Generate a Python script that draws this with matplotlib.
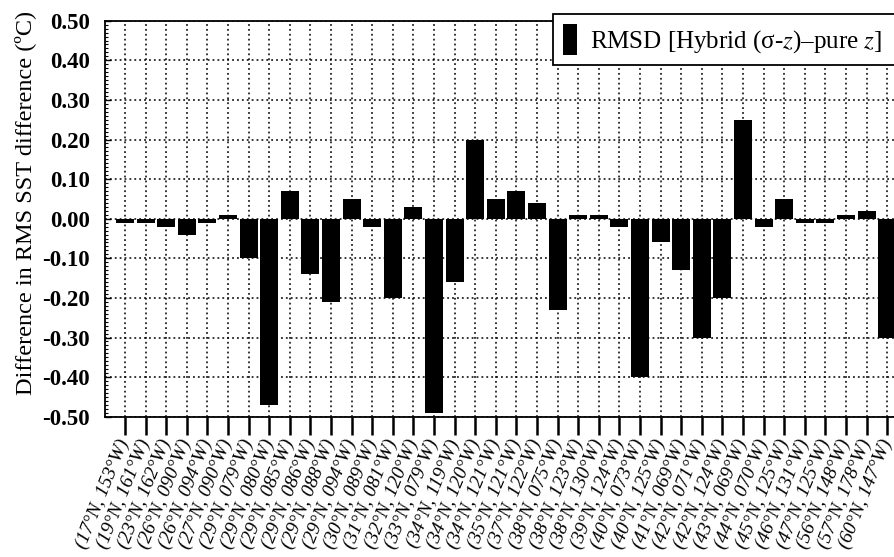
import numpy as np
import matplotlib
matplotlib.use('Agg')
import matplotlib.pyplot as plt
from matplotlib.ticker import MultipleLocator, FormatStrFormatter

plt.rcParams['font.family'] = ['Liberation Serif', 'DejaVu Serif']
plt.rcParams['mathtext.fontset'] = 'stix'

lat = ['17', '19', '23', '26', '26', '27', '29', '29', '29', '29', '29', '29', '30',
       '31', '32', '33', '34', '34', '34', '35', '37', '38', '38', '38', '39',
       '40', '40', '41', '42', '42', '43', '44', '45', '46', '47', '56', '57', '60']
lon = ['153', '161', '162', '090', '094', '090', '079', '080', '085', '086', '088', '094', '089',
       '081', '120', '079', '119', '120', '121', '121', '122', '075', '123', '130', '124',
       '073', '125', '069', '071', '124', '069', '070', '125', '131', '125', '148', '178', '147']
rmsd_diff = [-0.01, -0.01, -0.02, -0.04, -0.01, 0.01, -0.10, -0.47, 0.07, -0.14,
             -0.21, 0.05, -0.02, -0.20, 0.03, -0.49, -0.16, 0.20, 0.05, 0.07,
             0.04, -0.23, 0.01, 0.01, -0.02, -0.40, -0.06, -0.13, -0.30, -0.20,
             0.25, -0.02, 0.05, -0.01, -0.01, 0.01, 0.02, -0.30]

labels = ['(%s°N, %s°W)' % (a, b) for a, b in zip(lat, lon)]
x = np.arange(len(rmsd_diff))

fig = plt.figure(figsize=(8.94, 5.57), dpi=100)
# axes runs past the right edge, the original is cropped there
ax = fig.add_axes([105/894, 1 - 416.7/557, (901.6 - 105)/894, (416.7 - 20.7)/557])

ax.bar(x, rmsd_diff, width=0.88, color='black', zorder=3,
       label='RMSD [Hybrid (σ-$z$)\u2013pure $z$]')

ax.set_xlim(-0.97, 37.7)
ax.set_ylim(-0.5, 0.5)
ax.yaxis.set_major_locator(MultipleLocator(0.1))
ax.yaxis.set_minor_locator(MultipleLocator(0.01))
ax.yaxis.set_major_formatter(FormatStrFormatter('%.2f'))
ax.set_xticks(x)
ax.set_xticklabels(labels, rotation=68, ha='right', va='center',
                   rotation_mode='anchor', fontsize=14, style='italic')

ax.tick_params(axis='x', direction='out', length=13, width=1.8, pad=4)
ax.tick_params(axis='y', which='major', direction='in', length=4, width=1, pad=11,
               labelsize=16.5)
ax.tick_params(axis='y', which='minor', direction='in', length=2.5, width=0.8)
for t in ax.get_yticklabels():
    t.set_fontweight('bold')

ax.grid(True, which='major', color='black', linestyle=(0, (1.2, 2)), linewidth=1.1)
ax.set_axisbelow(True)
for s in ax.spines.values():
    s.set_linewidth(1.3)

fig.text(25/894, 1 - 203/557, 'Difference in RMS SST difference (ºC)',
         rotation=90, ha='center', va='center', fontsize=17.5)

leg = ax.legend(loc='upper left', bbox_to_anchor=(0.5624, 1.0169, 0.45, 0), mode='expand',
                borderaxespad=0, fontsize=18, handlelength=0.56, handleheight=1.5,
                handletextpad=0.5, borderpad=0.4, fancybox=False, framealpha=1,
                edgecolor='black')
leg.get_frame().set_linewidth(1.3)

fig.savefig('out.png', dpi=100)
